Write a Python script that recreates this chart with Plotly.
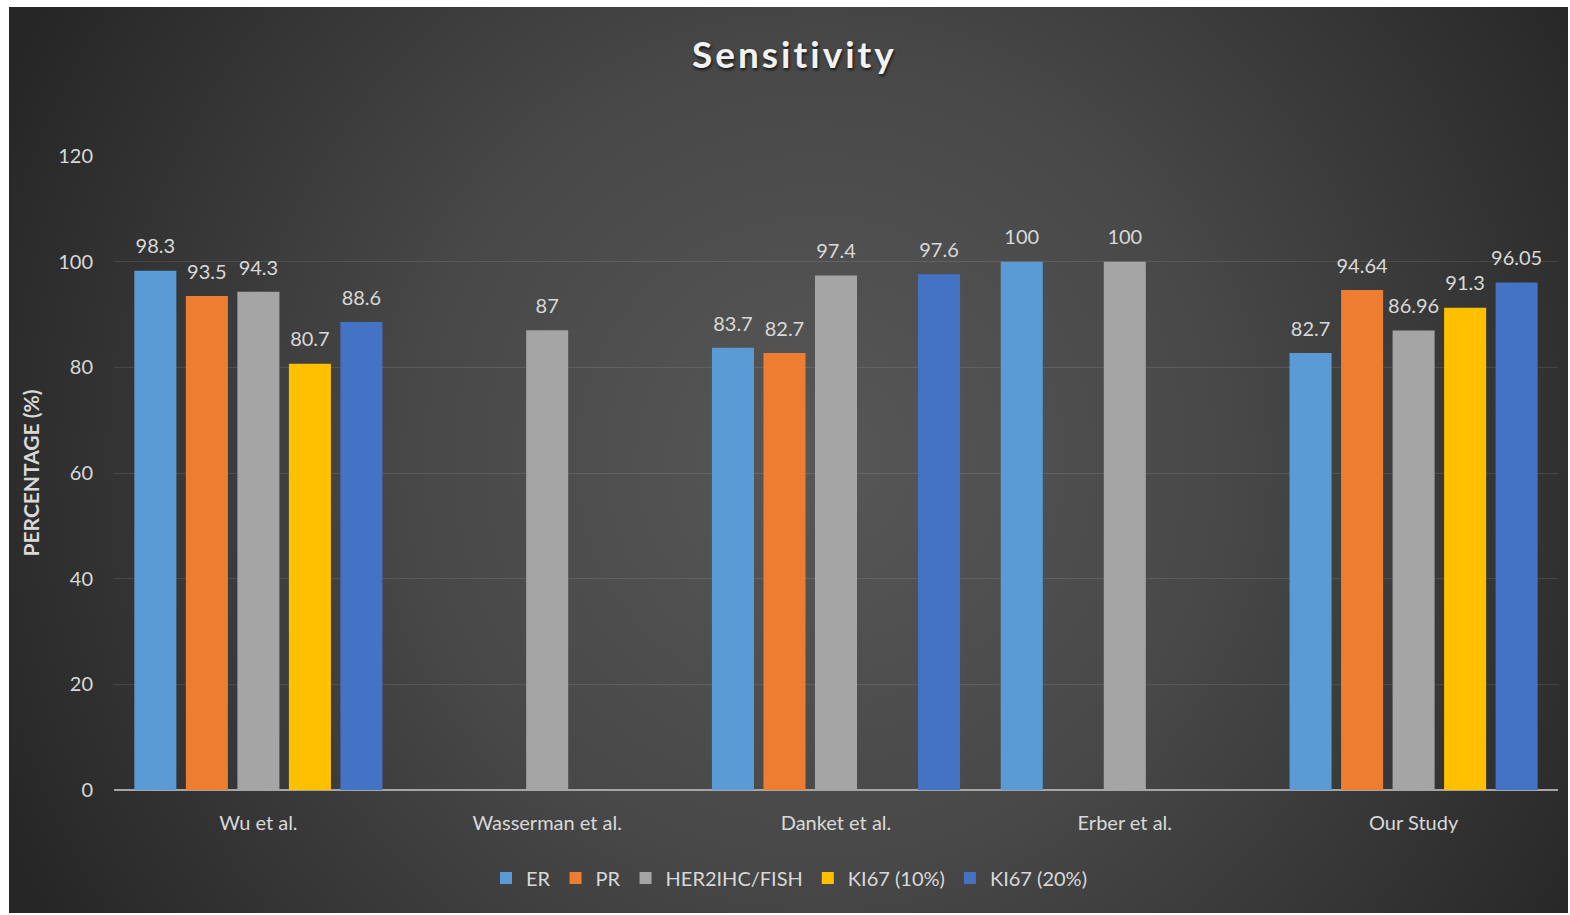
import base64
import plotly.graph_objects as go

# Sensitivity (%) reported by each study for each marker
studies = ["Wu et al.", "Wasserman et al.", "Danket et al.", "Erber et al.", "Our Study"]
er = [98.3, None, 83.7, 100, 82.7]
pr = [93.5, None, 82.7, None, 94.64]
her2 = [94.3, 87, 97.4, 100, 86.96]
ki67_10 = [80.7, None, None, None, 91.3]
ki67_20 = [88.6, None, 97.6, None, 96.05]

series = [
    ("ER", er, "#5B9BD5"),
    ("PR", pr, "#ED7D31"),
    ("HER2IHC/FISH", her2, "#A5A5A5"),
    ("KI67 (10%)", ki67_10, "#FFC000"),
    ("KI67 (20%)", ki67_20, "#4472C4"),
]

W, H = 1570, 915
ML, MR, MT, MB = 114, 12, 156, 125
PW, PH = W - ML - MR, H - MT - MB
GAP = 0.108

# dark card behind the chart, lighter towards the middle
BX0, BY0, BX1, BY1 = 9, 7, 1568, 913
bw, bh = BX1 - BX0, BY1 - BY0
svg = f"""<svg xmlns='http://www.w3.org/2000/svg' width='{bw}' height='{bh}' viewBox='0 0 {bw} {bh}' preserveAspectRatio='none'>
<defs><radialGradient id='g' gradientUnits='userSpaceOnUse' cx='{bw*0.52}' cy='{bh*0.5}' r='{900}'>
<stop offset='0' stop-color='#575757'/>
<stop offset='0.45' stop-color='#484848'/>
<stop offset='1' stop-color='#262626'/>
</radialGradient></defs>
<rect width='{bw}' height='{bh}' fill='url(#g)'/></svg>"""
bg_src = "data:image/svg+xml;base64," + base64.b64encode(svg.encode()).decode()

FONT = "Lato, 'Open Sans', sans-serif"
TXT = "#d9d9d9"

fig = go.Figure()
for name, vals, color in series:
    fig.add_trace(go.Bar(
        x=studies, y=vals, name=name,
        marker=dict(color=color, line=dict(width=0)),
        hoverinfo="x+y+name",
    ))

# value labels, grouped the same way as the bars and lifted by an invisible marker
for name, vals, color in series:
    fig.add_trace(go.Scatter(
        x=studies, y=vals, name=name + " label",
        mode="markers+text",
        marker=dict(size=18, color="rgba(0,0,0,0)"),
        text=[("" if v is None else f"{v:g}") for v in vals],
        textposition="top center",
        textfont=dict(family=FONT, size=20, color=TXT),
        cliponaxis=False, showlegend=False, hoverinfo="skip",
        orientation="v",
    ))

fig.update_layout(
    width=W, height=H,
    margin=dict(l=ML, r=MR, t=MT, b=MB, autoexpand=False),
    paper_bgcolor="#ffffff",
    plot_bgcolor="rgba(0,0,0,0)",
    barmode="group",
    bargap=GAP,
    bargroupgap=0.184,
    scattermode="group",
    scattergap=GAP,
    font=dict(family=FONT, color=TXT),
    title=dict(
        text="<b><span style='letter-spacing:3px'>Sensitivity</span></b>",
        font=dict(family=FONT, size=37, color="#f2f2f2",
                  shadow="1px 2px 3px rgba(0,0,0,0.7)"),
        x=0.506, xref="container", xanchor="center",
        y=1 - 55 / H, yref="container", yanchor="middle",
    ),
    legend=dict(
        orientation="h",
        xref="container", x=789 / W, xanchor="center",
        yref="container", y=1 - 878 / H, yanchor="middle",
        font=dict(family=FONT, size=20, color=TXT),
        itemwidth=30,
        traceorder="normal",
        bgcolor="rgba(0,0,0,0)",
    ),
    images=[dict(
        source=bg_src, xref="paper", yref="paper",
        x=(BX0 - ML) / PW, y=(H - MB - BY0) / PH,
        sizex=bw / PW, sizey=bh / PH,
        xanchor="left", yanchor="top",
        sizing="stretch", layer="below",
    )],
)

fig.update_yaxes(
    range=[0, 120], dtick=20,
    showgrid=True, gridcolor="rgba(255,255,255,0.10)", gridwidth=1,
    zeroline=True, zerolinecolor="#a6a6a6", zerolinewidth=2,
    showline=False,
    tickfont=dict(family=FONT, size=20, color=TXT),
    ticklabelstandoff=20,
    title=dict(text="<b>PERCENTAGE (%)</b>",
               font=dict(family=FONT, size=21, color=TXT), standoff=12),
)
fig.update_xaxes(
    showgrid=False, showline=False, ticks="",
    tickfont=dict(family=FONT, size=20, color=TXT),
    ticklabelstandoff=19,
)

fig.write_html("out.html")
